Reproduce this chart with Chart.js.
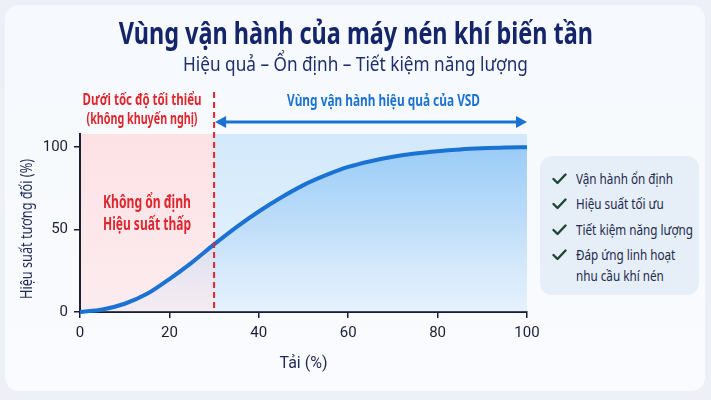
<!DOCTYPE html>
<html>
<head>
<meta charset="utf-8">
<script src="https://cdn.jsdelivr.net/npm/chart.js@4"></script>
<style>
  html, body { margin: 0; padding: 0; }
  body { width: 711px; height: 400px; background: #edf1f7; position: relative; overflow: hidden;
         font-family: 'Noto Sans', sans-serif; }
  .card { position: absolute; left: 5px; top: 5px; width: 700px; height: 386px; border-radius: 14px;
          background: linear-gradient(180deg, #f6f9fd, #f9fbfe); }
  #wrap { position: absolute; left: 0; top: 0; width: 711px; height: 400px; }
  .line { position: absolute; left: 0; width: 711px; text-align: center; white-space: nowrap; }
  .line span { display: inline-block; }
  h1.line { top: 12px; margin: 0; font-size: 30px; font-weight: bold; color: #15256a; }
  h1.line span { transform: scaleX(0.78); }
  .sub { top: 50px; font-size: 20px; color: #1e2f6e; }
  .sub span { transform: scaleX(0.86); }
  .panel { position: absolute; left: 540px; top: 156px; width: 159px; height: 139px;
           border-radius: 12px; background: #e6eef8; }
  .item { position: absolute; left: 12px; white-space: nowrap; color: #1c2a4e; font-size: 15px; line-height: 20px; }
  .item svg { position: absolute; left: 0; top: 5px; }
  .item span { position: absolute; left: 24px; top: 0; transform-origin: 0 50%; transform: scaleX(0.78); }
</style>
</head>
<body>
<div class="card"></div>
<div id="wrap"><canvas id="c"></canvas></div>
<h1 class="line"><span>Vùng vận hành của máy nén khí biến tần</span></h1>
<div class="line sub"><span>Hiệu quả – Ổn định – Tiết kiệm năng lượng</span></div>
<div class="panel">
  <div class="item" style="top:12px"><svg width="15" height="12"><polyline points="1.5,6 5.5,10 13.5,1.5" fill="none" stroke="#1e4636" stroke-width="2.4" stroke-linecap="round" stroke-linejoin="round"/></svg><span>Vận hành ổn định</span></div>
  <div class="item" style="top:37px"><svg width="15" height="12"><polyline points="1.5,6 5.5,10 13.5,1.5" fill="none" stroke="#1e4636" stroke-width="2.4" stroke-linecap="round" stroke-linejoin="round"/></svg><span>Hiệu suất tối ưu</span></div>
  <div class="item" style="top:63px"><svg width="15" height="12"><polyline points="1.5,6 5.5,10 13.5,1.5" fill="none" stroke="#1e4636" stroke-width="2.4" stroke-linecap="round" stroke-linejoin="round"/></svg><span>Tiết kiệm năng lượng</span></div>
  <div class="item" style="top:88px"><svg width="15" height="12"><polyline points="1.5,6 5.5,10 13.5,1.5" fill="none" stroke="#1e4636" stroke-width="2.4" stroke-linecap="round" stroke-linejoin="round"/></svg><span>Đáp ứng linh hoạt</span></div>
  <div class="item" style="top:109px"><span>nhu cầu khí nén</span></div>
</div>
<script>
Chart.defaults.font.family = "'Noto Sans', sans-serif";
Chart.defaults.color = '#1e2440';

// tải (%) và hiệu suất tương đối (%)
const loads = [0, 5, 10, 15, 20, 25, 30, 35, 40, 45, 50, 55, 60, 65, 70, 75, 80, 85, 90, 95, 100];
const efficiency = [0, 1.5, 5, 11, 20, 30, 41, 51.5, 61, 69.5, 77, 83, 88, 91.5, 94.2, 96.2, 97.6, 98.6, 99.3, 99.8, 100];
const xTicks = [0, 20, 40, 60, 80, 100];
const yTicks = [0, 50, 100];
const minLoad = 30;

const RED = '#e0262d';
const BLUE = '#1a72d2';
const INK = '#1a1f36';

// chữ hẹp: co ngang về đúng bề rộng mong muốn
function narrowText(ctx, text, cx, cy, w, rot) {
    const m = ctx.measureText(text).width;
    ctx.save();
    ctx.translate(cx, cy);
    if (rot) ctx.rotate(rot);
    ctx.scale(w / m, 1);
    ctx.fillText(text, 0, 0);
    ctx.restore();
}

const zones = {
    id: 'zones',
    beforeDraw(chart) {
        const { ctx, chartArea: a, scales: { x } } = chart;
        const xm = x.getPixelForValue(minLoad);
        ctx.save();
        let g = ctx.createLinearGradient(0, a.top, 0, a.bottom);
        g.addColorStop(0, '#fde2e5'); g.addColorStop(1, '#fcecef');
        ctx.fillStyle = g;
        ctx.fillRect(a.left, a.top, xm - a.left, a.bottom - a.top);
        g = ctx.createLinearGradient(0, a.top, 0, a.bottom);
        g.addColorStop(0, '#d3e9fb'); g.addColorStop(1, '#e8f3fd');
        ctx.fillStyle = g;
        ctx.fillRect(xm, a.top, a.right - xm, a.bottom - a.top);
        ctx.restore();
    },
    afterDraw(chart) {
        const { ctx, chartArea: a, scales: { x, y } } = chart;
        const xm = x.getPixelForValue(minLoad);
        const xr = x.getPixelForValue(100);
        const ay = 122;
        ctx.save();
        // vạch tốc độ tối thiểu
        ctx.strokeStyle = RED; ctx.lineWidth = 2; ctx.setLineDash([6, 4]);
        ctx.beginPath(); ctx.moveTo(xm, 92); ctx.lineTo(xm, a.bottom); ctx.stroke();
        ctx.setLineDash([]);
        // mũi tên vùng VSD
        ctx.strokeStyle = BLUE; ctx.fillStyle = BLUE; ctx.lineWidth = 3;
        ctx.beginPath(); ctx.moveTo(xm + 4, ay); ctx.lineTo(xr - 4, ay); ctx.stroke();
        ctx.beginPath(); ctx.moveTo(xm + 1, ay); ctx.lineTo(xm + 12, ay - 6); ctx.lineTo(xm + 12, ay + 6); ctx.fill();
        ctx.beginPath(); ctx.moveTo(xr, ay); ctx.lineTo(xr - 11, ay - 6); ctx.lineTo(xr - 11, ay + 6); ctx.fill();
        ctx.textAlign = 'center'; ctx.textBaseline = 'middle';
        ctx.font = "bold 16px 'Noto Sans', sans-serif";
        narrowText(ctx, 'Vùng vận hành hiệu quả của VSD', (xm + xr) / 2 + 13, 101, 193);
        ctx.fillStyle = RED;
        narrowText(ctx, 'Dưới tốc độ tối thiểu', 142, 100, 119);
        narrowText(ctx, '(không khuyến nghị)', 142, 119, 111);
        ctx.font = "bold 17px 'Noto Sans', sans-serif";
        narrowText(ctx, 'Không ổn định', 147, 203, 88);
        narrowText(ctx, 'Hiệu suất thấp', 147, 225, 88);
        // tiêu đề trục tung
        ctx.fillStyle = '#1e2a55';
        ctx.font = "16px 'Noto Sans', sans-serif";
        narrowText(ctx, 'Hiệu suất tương đối (%)', 27, (y.top + y.bottom) / 2 + 6, 140, -Math.PI / 2);
        ctx.restore();
    }
};

new Chart(document.getElementById('c'), {
    type: 'line',
    data: {
        datasets: [{
            data: loads.map((v, i) => ({ x: v, y: efficiency[i] })),
            borderColor: BLUE, borderWidth: 4, pointRadius: 0,
            cubicInterpolationMode: 'monotone', fill: 'origin', clip: 6,
            backgroundColor: c => {
                const a = c.chart.chartArea;
                if (!a) return 'rgba(120,185,245,0.5)';
                const g = c.chart.ctx.createLinearGradient(0, a.top, 0, a.bottom);
                g.addColorStop(0, 'rgba(125,190,245,0.75)');
                g.addColorStop(0.5, 'rgba(150,200,245,0.45)');
                g.addColorStop(1, 'rgba(215,232,250,0.2)');
                return g;
            }
        }]
    },
    options: {
        responsive: true, maintainAspectRatio: false, animation: false,
        layout: { padding: { left: 0, right: 184, top: 134, bottom: 10 } },
        plugins: { legend: { display: false }, tooltip: { enabled: false } },
        scales: {
            x: {
                type: 'linear', min: 0, max: 100,
                afterBuildTicks: s => { s.ticks = xTicks.map(v => ({ value: v })); },
                afterFit: s => { s.height = 78; },
                grid: { drawOnChartArea: false, tickLength: 6, color: INK, lineWidth: 1.5 },
                border: { color: INK, width: 2 },
                ticks: { padding: 6, font: { family: 'Roboto', size: 15 }, color: INK },
                title: { display: true, text: 'Tải (%)', font: { family: 'Roboto', size: 16 }, color: '#1e2a55', padding: { top: 4, bottom: 16 } }
            },
            y: {
                min: 0, max: 108,
                afterBuildTicks: s => { s.ticks = yTicks.map(v => ({ value: v })); },
                afterFit: s => { s.width = 80; },
                grid: { drawOnChartArea: false, tickLength: 6, color: INK, lineWidth: 1.5 },
                border: { color: INK, width: 2 },
                ticks: { padding: 6, font: { family: 'Roboto', size: 15 }, color: INK }
            }
        }
    },
    plugins: [zones]
});
</script>
</body>
</html>
